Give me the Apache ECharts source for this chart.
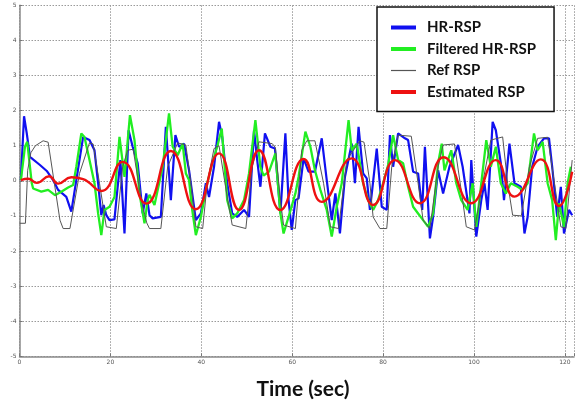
<!DOCTYPE html>
<html><head><meta charset="utf-8">
<script src="https://cdn.jsdelivr.net/npm/echarts@6/dist/echarts.min.js"></script>
<style>html,body{margin:0;padding:0;background:#fff}#c{width:577px;height:403px}</style>
</head><body><div id="c"></div>
<script>
var seriesNames = ['HR-RSP', 'Filtered HR-RSP', 'Ref RSP', 'Estimated RSP'];
var xTicks = [0, 20, 40, 60, 80, 100, 120];
var yTicks = [-5, -4, -3, -2, -1, 0, 1, 2, 3, 4, 5];

var hrRsp = [[0.3,0.02],[1.0,1.84],[1.6,1.35],[2.3,0.68],[4.5,0.45],[6,0.28],[7.4,0.02],[8.5,-0.26],[10.3,-0.46],[11.4,-0.88],[12.5,0.02],[14,1.25],[15.4,1.16],[16.5,0.87],[17.3,-0.07],[18,-0.98],[18.5,-0.69],[19.1,-0.98],[19.8,-1.12],[20.9,-1.1],[21.3,-0.55],[22.2,0.59],[23.1,-1.5],[24,1.44],[24.9,0.97],[26,0.5],[27.1,-0.93],[27.9,-0.36],[28.6,-0.98],[29.3,-1.07],[31.1,-1.03],[32.2,1.54],[33.3,-0.55],[34.3,1.3],[35.1,0.97],[36.2,1.06],[37.3,0.3],[38.8,-1.12],[39.9,-0.93],[41,-0.07],[41.7,-0.46],[42.8,0.4],[43.9,1.68],[44.6,1.25],[45.7,-0.07],[46.8,-0.93],[47.9,-1.03],[49.4,-0.83],[50.5,-1.03],[51.6,1.44],[52.3,0.59],[53,-0.17],[54,1.35],[55.2,0.97],[56.2,0.92],[57.4,-0.93],[58.5,1.35],[59.2,-0.55],[59.9,-1.4],[60.7,-0.55],[61.4,-0.5],[62.5,0.64],[63.6,0.26],[65,0.26],[66.5,1.21],[67.6,0.02],[68.7,-1.12],[69.5,-0.36],[70.5,-1.5],[71.6,0.11],[73.1,1.06],[73.8,-0.07],[74.6,1.54],[75.6,0.21],[76.4,0.07],[77.1,-0.83],[77.6,-0.26],[78.6,0.92],[79.7,-0.74],[80.8,-0.83],[81.5,1.3],[82.2,0.4],[83.3,1.35],[84.8,1.21],[85.5,1.16],[86.6,0.26],[87.7,0.21],[88.6,-0.83],[89.2,0.97],[90.3,-1.64],[91,-1.03],[92.1,0.3],[93.2,-0.36],[94.6,0.4],[96.5,1.02],[97.5,0.4],[99,-0.93],[99.4,0.59],[100.5,-1.59],[101.6,-0.55],[102.3,-0.07],[103,-0.83],[104.1,1.68],[104.8,1.44],[105.9,0.5],[106.6,-0.55],[107.8,1.06],[108.9,-0.07],[110.3,-0.17],[111.1,-1.5],[111.8,-1.03],[112.8,0.4],[114,0.97],[115.4,1.21],[116.5,1.21],[117.2,0.4],[118.3,-1.03],[119.1,-0.17],[119.8,-1.5],[120.9,-0.83],[121.6,-0.98]];

var filteredHrRsp = [[0.3,0.02],[1.2,0.97],[1.7,1.11],[2.7,-0.07],[3,-0.22],[4.8,-0.31],[6.3,-0.26],[7.8,-0.41],[9.2,-0.31],[10.7,-0.19],[11.8,-0.12],[12.5,0.4],[13.6,1.35],[14.3,1.25],[15.4,0.59],[16.5,-0.07],[17.3,-0.93],[18,-1.55],[18.7,-0.83],[19.8,-0.74],[20.9,-0.46],[22,1.25],[22.4,1.2],[23.1,0.11],[24.3,1.87],[25.3,1.16],[26.4,-0.36],[27.5,-1.21],[28.2,-0.55],[28.6,-0.4],[29.7,-0.69],[31.5,0.4],[32.9,1.92],[33.7,0.97],[34.8,0.73],[35.9,1.06],[36.6,0.21],[37.3,0.02],[38,-0.83],[38.8,-1.55],[39.9,-1.03],[41.3,-0.07],[42.4,0.5],[43.5,0.97],[44.5,1.49],[45.7,-0.55],[46.8,-1.07],[47.9,-0.93],[49.4,-0.55],[50.5,0.21],[51.9,1.73],[53,0.4],[53.7,0.15],[54.9,0.26],[56.3,0.78],[57.4,-0.93],[58.1,-1.5],[59.2,-1.03],[60.7,-0.36],[61.4,0.11],[62.9,1.4],[64,0.97],[65,0.3],[66.2,-0.26],[67.6,-0.83],[68.7,-1.59],[69.8,-0.74],[70.9,-0.07],[72.4,1.73],[73.1,0.87],[74.2,1.06],[75.6,-0.07],[76.7,-0.55],[77.8,-0.83],[78.9,-0.55],[80,-0.07],[81.1,0.45],[82.2,1.3],[83.3,0.59],[84.4,0.5],[85.5,-0.17],[86.6,-0.74],[87.7,-0.93],[88.8,-1.12],[89.9,-1.31],[91,-0.93],[92.1,0.5],[92.9,1.06],[93.5,0.3],[95,0.87],[96.1,-0.07],[97.2,-0.55],[98.6,-0.83],[99.7,-0.07],[100.5,-1.31],[101.6,-0.07],[102.7,1.16],[103.7,0.4],[104.8,0.97],[105.9,-0.07],[107,-0.36],[108.1,-0.07],[109.6,-0.17],[110.7,-0.26],[111.8,-0.07],[113.2,1.35],[114,0.87],[115.1,1.11],[116.2,-0.07],[117.2,-0.55],[118,-1.69],[118.7,-0.64],[119.8,-1.31],[120.6,-0.07],[121.3,0.4]];

var refRsp = [[0,-1.21],[1.3,-1.21],[1.8,0.3],[2.5,0.8],[3.5,1.0],[5.2,1.14],[6.3,1.1],[8.9,-1.12],[9.6,-1.36],[11.1,-1.36],[13.2,0.21],[15.4,1.08],[16.2,1.05],[17.6,-0.07],[19.1,-1.31],[21.3,-1.36],[22.7,0.4],[23.8,0.87],[25,0.9],[26.8,-0.55],[28,-1.2],[28.6,-1.36],[31.1,-1.36],[32.6,0.4],[34.8,1.08],[36.6,1.02],[37.7,-0.07],[38.8,-1.31],[40.3,-1.36],[41.3,-0.07],[42.8,0.92],[43.9,1.0],[45.7,-0.46],[46.8,-1.26],[49.8,-1.36],[51.2,0.4],[52.7,1.11],[55.6,1.06],[56.3,0.95],[57.4,-0.55],[58.1,-1.26],[60.7,-1.36],[62.1,0.87],[63.2,1.14],[65,1.14],[66.9,-0.07],[68.4,-1.31],[70.2,-1.36],[72,0.59],[74.9,1.14],[75.8,1.1],[77.1,-0.07],[77.8,-1.03],[79.3,-1.36],[80.8,-1.36],[81.9,0.4],[83.3,1.3],[86.2,1.27],[87.7,-0.07],[88.8,-1.12],[90.3,-1.36],[92.1,0.4],[93.2,1.02],[95.7,1.05],[97.5,-0.55],[98.3,-1.31],[100.1,-1.4],[101.9,-0.07],[103.7,1.16],[106.3,1.25],[107.4,-0.07],[108.5,-0.98],[110.4,-1.0],[112.2,0.4],[114,1.21],[116.2,1.24],[117.7,-0.07],[119.1,-1.31],[120.2,-1.36],[121.6,0.59]];

var estimatedRsp = [[0.3,0.02],[1.9,0.06],[3.8,-0.06],[6.5,0.13],[8.5,-0.08],[11.4,0.1],[14,0.05],[18,-0.29],[22.7,0.54],[27.9,-0.65],[33.3,0.85],[38.8,-0.81],[43.9,0.78],[48.3,-0.83],[52.7,0.87],[57.4,-0.83],[62.5,0.62],[66.5,-0.6],[73.1,0.64],[77.8,-0.69],[82.6,0.59],[88.1,-0.64],[93.3,0.67],[99.4,-0.64],[104.8,0.59],[108.9,-0.45],[114.7,0.61],[118.7,-0.72],[121.6,0.26]];

var chart = echarts.init(document.getElementById('c'), null, {renderer: 'canvas'});
var gridLine = {show: true, lineStyle: {color: '#9a9a9a', type: [1.5, 1.5], width: 1}};
var noSym = {opacity: 0};
chart.setOption({
  animation: false,
  backgroundColor: '#fff',
  grid: {left: 19.5, top: 5.3, width: 557, bottom: 46.7, containLabel: false},
  xAxis: {
    type: 'value', min: 0, max: 122, interval: 20,
    axisLine: {show: true, onZero: false, lineStyle: {color: '#8a8a8a', width: 1.5}},
    axisTick: {show: true, inside: true, length: 3, lineStyle: {color: '#777'}},
    axisLabel: {margin: 3, fontSize: 6, color: '#555', fontFamily: 'DejaVu Sans',
      formatter: function (v) { return xTicks.indexOf(v) >= 0 ? String(v) : ''; }},
    splitLine: gridLine
  },
  yAxis: {
    type: 'value', min: -5, max: 5, interval: 1,
    axisLine: {show: true, onZero: false, lineStyle: {color: '#8a8a8a', width: 1.5}},
    axisTick: {show: true, inside: true, length: 3, lineStyle: {color: '#777'}},
    axisLabel: {margin: 3, fontSize: 6, color: '#555', fontFamily: 'DejaVu Sans',
      formatter: function (v) { return yTicks.indexOf(v) >= 0 ? String(v) : ''; }},
    splitLine: gridLine
  },
  legend: {
    orient: 'vertical', left: 377, top: 7,
    padding: [13, 18, 12, 12], itemGap: 6.5, itemWidth: 25, itemHeight: 14,
    backgroundColor: '#fff', borderColor: '#111', borderWidth: 1.5, borderRadius: 0,
    itemStyle: noSym,
    textStyle: {fontFamily: 'Lato', fontWeight: 'bold', fontSize: 15, color: '#111', padding: [0, 0, 0, 6]},
    data: [
      {name: seriesNames[0], itemStyle: noSym, lineStyle: {width: 4}},
      {name: seriesNames[1], itemStyle: noSym, lineStyle: {width: 4}},
      {name: seriesNames[2], itemStyle: noSym, lineStyle: {width: 1.2}},
      {name: seriesNames[3], itemStyle: noSym, lineStyle: {width: 4}}
    ]
  },
  graphic: [{type: 'text', x: 303, y: 389, style: {text: 'Time (sec)', fontFamily: 'Lato', fontWeight: 'bold', fontSize: 21, fill: '#111', align: 'center', verticalAlign: 'middle'}}],
  series: [
    {name: seriesNames[0], type: 'line', data: hrRsp, showSymbol: false, symbol: 'none', lineStyle: {color: '#1010f0', width: 2.2}, itemStyle: {color: '#1010f0'}, z: 2},
    {name: seriesNames[1], type: 'line', data: filteredHrRsp, showSymbol: false, symbol: 'none', lineStyle: {color: '#22ee22', width: 2.3}, itemStyle: {color: '#22ee22'}, z: 3},
    {name: seriesNames[2], type: 'line', data: refRsp, showSymbol: false, symbol: 'none', lineStyle: {color: '#555', width: 1}, itemStyle: {color: '#555'}, z: 4},
    {name: seriesNames[3], type: 'line', data: estimatedRsp, smooth: 0.5, showSymbol: false, symbol: 'none', lineStyle: {color: '#ee1111', width: 2.4}, itemStyle: {color: '#ee1111'}, z: 5}
  ]
});
</script></body></html>
